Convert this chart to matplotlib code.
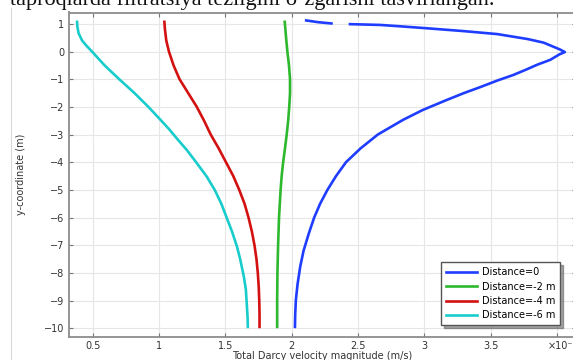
import numpy as np
import matplotlib.pyplot as plt
from matplotlib.lines import Line2D

# Velocity magnitude (x 1e-7 m/s) against y-coordinate (m) along each cut line
# (the nan keeps the small break in the Distance=0 curve near the top)
y_dist0 = [1.13, 1.06, 1.01, np.nan, 0.99, 0.96, 0.90, 0.84, 0.74, 0.63, 0.45, 0.32, 0.18, 0.08, -0.02,
           -0.10, -0.30, -0.48, -0.65, -0.85, -1.05, -1.29, -1.50, -1.75, -2.11, -2.47, -3.0,
           -3.5, -4.0, -4.5, -5.0, -5.5, -6.0, -6.57, -7.2, -7.77, -8.4, -8.98, -9.5, -10.0]
v_dist0 = [2.10, 2.20, 2.31, np.nan, 2.43, 2.67, 2.85, 3.02, 3.29, 3.55, 3.78, 3.90, 3.97, 4.02, 4.06,
           4.02, 3.95, 3.85, 3.77, 3.67, 3.55, 3.42, 3.30, 3.17, 2.99, 2.84, 2.65,
           2.52, 2.41, 2.335, 2.27, 2.215, 2.17, 2.13, 2.09, 2.065, 2.045, 2.032, 2.027, 2.025]

y_dist2 = [1.12, 0.8, 0.4, 0.0, -0.5, -1.0, -1.5, -2.0, -2.5, -3.0, -3.5, -4.0, -4.5, -5.0,
           -5.5, -6.0, -7.0, -8.0, -9.0, -10.0]
v_dist2 = [1.947, 1.953, 1.96, 1.968, 1.98, 1.988, 1.988, 1.982, 1.974, 1.963, 1.95, 1.936,
           1.925, 1.917, 1.911, 1.905, 1.898, 1.893, 1.891, 1.891]

y_dist4 = [1.12, 0.8, 0.4, 0.0, -0.5, -1.0, -1.5, -2.0, -2.5, -3.0, -3.5, -4.0, -4.5, -5.0,
           -5.5, -6.0, -6.5, -7.0, -7.5, -8.0, -8.5, -9.0, -9.5, -10.0]
v_dist4 = [1.04, 1.045, 1.055, 1.075, 1.11, 1.155, 1.22, 1.285, 1.34, 1.39, 1.45, 1.505, 1.56,
           1.605, 1.645, 1.675, 1.70, 1.72, 1.735, 1.745, 1.752, 1.756, 1.758, 1.758]

y_dist6 = [1.12, 0.9, 0.66, 0.4, 0.2, 0.0, -0.5, -1.0, -1.5, -2.0, -2.41, -2.8, -3.2, -3.56,
           -4.0, -4.52, -5.0, -5.5, -6.0, -6.5, -7.05, -7.5, -8.14, -8.6, -9.22, -9.6, -10.0]
v_dist6 = [0.382, 0.385, 0.394, 0.42, 0.455, 0.495, 0.59, 0.70, 0.815, 0.92, 1.0, 1.075, 1.145,
           1.21, 1.28, 1.36, 1.42, 1.47, 1.51, 1.55, 1.588, 1.612, 1.64, 1.655, 1.663, 1.668, 1.67]

labels = ["Distance=0", "Distance=-2 m", "Distance=-4 m", "Distance=-6 m"]
colors = ["#1f3dff", "#2db82d", "#d41111", "#19cccc"]

x_ticks = [0.5, 1, 1.5, 2, 2.5, 3, 3.5, 4]
x_ticklabels = ["0.5", "1", "1.5", "2", "2.5", "3", "3.5", ""]
y_ticks = list(range(1, -11, -1))

fig = plt.figure(figsize=(5.73, 3.6), dpi=100)
ax = fig.add_axes([68.5 / 573, 23.5 / 360, 507 / 573, 324 / 360])

series = [(v_dist0, y_dist0), (v_dist2, y_dist2), (v_dist4, y_dist4), (v_dist6, y_dist6)]
for (v, y), c, lab in zip(series, colors, labels):
    ax.plot(v, y, color=c, lw=1.9, label=lab, solid_capstyle="butt", solid_joinstyle="round")

ax.set_xlim(0.318, 4.14)
ax.set_ylim(-10.3, 1.41)
ax.set_xticks(x_ticks)
ax.set_xticklabels(x_ticklabels)
ax.set_yticks(y_ticks)
ax.grid(True, color="#e6e6e6", lw=0.8)
ax.set_axisbelow(True)

for s in ax.spines.values():
    s.set_color("#8c8c8c")
    s.set_linewidth(1.3)
ax.tick_params(direction="in", length=3, width=0.8, color="#777777",
               labelsize=7, labelcolor="#333333", top=True, right=True, pad=3)

ax.set_xlabel("Total Darcy velocity magnitude (m/s)", fontsize=7, color="#333333", labelpad=0)
ax.set_ylabel("y-coordinate (m)", fontsize=7, color="#333333", labelpad=13)
fig.text(548 / 573, 1 - 346 / 360, "\u00d710\u207b\u2077", fontsize=7, color="#333333",
         va="center", ha="left")

handles = [Line2D([], [], color=c, lw=1.9) for c in colors]
leg = ax.legend(handles, labels, loc="lower right", bbox_to_anchor=(0.98, 0.02),
                fontsize=7, frameon=True, fancybox=False, shadow=True,
                handlelength=3.2, handletextpad=0.5, borderpad=0.5, labelspacing=0.45,
                edgecolor="#555555")
leg.get_frame().set_linewidth(1.0)

# page margin rule and the clipped caption line above the plot
fig.add_artist(Line2D([10.5 / 573, 10.5 / 573], [0, 1 - 8 / 360], color="#d9d9d9", lw=0.8))
fig.text(10 / 573, 1 - 5 / 360, "taproqlarda filtratsiya tezligini o\u2018zgarishi tasvirlangan.",
         fontsize=16, family="Liberation Serif", color="#111111", va="baseline", ha="left")

fig.savefig("out.png", dpi=100)
